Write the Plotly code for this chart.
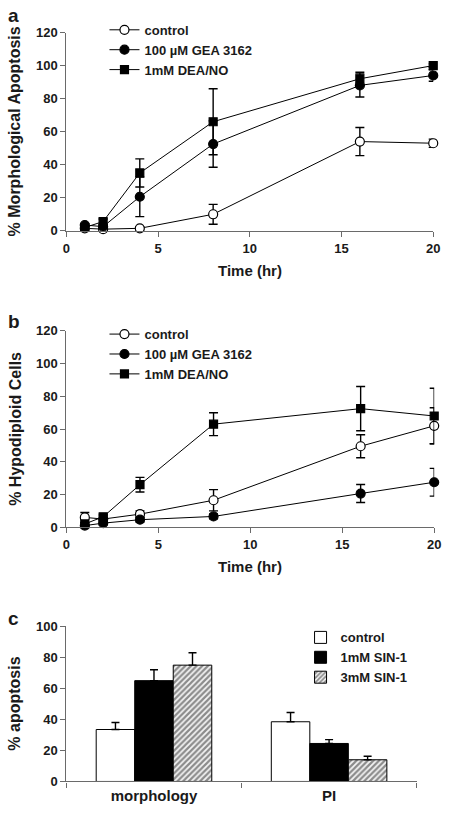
import plotly.graph_objects as go

# ---------------- data ----------------
times = [1, 2, 4, 8, 16, 20]

a_control = [1.5, 1, 1.5, 10, 54, 53]
a_control_err = [1, 0.5, 1, 6, 8.5, 2.5]
a_gea = [3.5, 2.5, 20.6, 52.5, 88, 94]
a_gea_err = [1, 1, 12, 14, 7, 3.5]
a_dea = [2, 5.6, 35, 66, 92, 100]
a_dea_err = [1, 1.5, 8.5, 20, 4, 1]

b_control = [6, 5, 8, 16.5, 49.5, 62]
b_control_err = [3, 2, 2, 6.5, 7, 11]
b_gea = [1, 2.5, 4.6, 6.6, 20.6, 27.5]
b_gea_err = [1, 1, 1.5, 1.5, 5.5, 8.5]
b_dea = [2, 6.4, 26, 63, 72.5, 68]
b_dea_err = [1, 1.5, 4.5, 7, 13.5, 17]

c_categories = ["morphology", "PI"]
c_control = [33.5, 38.5]
c_control_err = [4.5, 6]
c_sin1 = [65, 24.5]
c_sin1_err = [7, 2.5]
c_sin3 = [75, 14]
c_sin3_err = [8, 2.3]

line_names = ["control", "100 µM GEA 3162", "1mM DEA/NO"]
bar_names = ["control", "1mM SIN-1", "3mM SIN-1"]

W, H = 449, 814
FONT = "Liberation Sans, Arial, Helvetica, sans-serif"
AXC = "#6a6a6a"
TXT = "#1a1a1a"


def px(x):
    return x / W


def py(y):
    return (H - y) / H


fig = go.Figure()


def add_series(y, err, name, symbol, fill, xa, ya, legend, size):
    fig.add_trace(go.Scatter(
        x=times, y=y, name=name, mode="lines+markers",
        xaxis=xa, yaxis=ya, legend=legend, cliponaxis=False,
        line=dict(color="black", width=1),
        marker=dict(symbol=symbol, size=size, color=fill,
                    line=dict(color="black", width=1.2)),
        error_y=dict(type="data", array=err, visible=True,
                     color="black", thickness=1.4, width=4.5),
    ))


series_a = [(a_control, a_control_err), (a_gea, a_gea_err), (a_dea, a_dea_err)]
series_b = [(b_control, b_control_err), (b_gea, b_gea_err), (b_dea, b_dea_err)]
styles = [("circle", "white", 9), ("circle", "black", 9), ("square", "black", 8)]

for (y, e), nm, (sym, fill, sz) in zip(series_a, line_names, styles):
    add_series(y, e, nm, sym, fill, "x", "y", "legend", sz)
for (y, e), nm, (sym, fill, sz) in zip(series_b, line_names, styles):
    add_series(y, e, nm, sym, fill, "x2", "y2", "legend2", sz)

bar_series = [(c_control, c_control_err, "white", ""),
              (c_sin1, c_sin1_err, "black", ""),
              (c_sin3, c_sin3_err, "white", "/")]
for (vals, err, col, pat), nm in zip(bar_series, bar_names):
    marker = dict(color=col, line=dict(color="black", width=1))
    if pat:
        marker["pattern"] = dict(shape=pat, fgcolor="#222222", bgcolor="#f4f4f4",
                                 size=4, solidity=0.55)
    fig.add_trace(go.Bar(
        x=c_categories, y=vals, name=nm, xaxis="x3", yaxis="y3",
        legend="legend3", marker=marker,
        error_y=dict(type="data", symmetric=False, array=err,
                     arrayminus=[0] * len(err), visible=True,
                     color="black", thickness=1.4, width=4),
    ))

tickfont = dict(family=FONT, size=13, color=TXT, weight="bold")
common = dict(showline=True, linecolor=AXC, linewidth=1.3, ticks="outside",
              ticklen=5, tickcolor=AXC, tickwidth=1.3, showgrid=False,
              zeroline=False, tickfont=tickfont, mirror=False)

legfont = dict(family=FONT, size=13, color=TXT, weight="bold")

fig.update_layout(
    width=W, height=H, margin=dict(l=0, r=0, t=0, b=0),
    paper_bgcolor="white", plot_bgcolor="white",
    barmode="group", bargap=0.34, bargroupgap=0,
    xaxis=dict(domain=[px(64), px(440)], range=[0, 20], dtick=5,
               anchor="y", **common),
    yaxis=dict(domain=[py(228), py(26)], range=[0, 120], dtick=20,
               anchor="x", **common),
    xaxis2=dict(domain=[px(64), px(441)], range=[0, 20], dtick=5,
                anchor="y2", **common),
    yaxis2=dict(domain=[py(530), py(330)], range=[0, 120], dtick=20,
                anchor="x2", **common),
    xaxis3=dict(domain=[px(64), px(423)], type="category",
                tickson="boundaries", anchor="y3",
                **{**common, "tickfont": dict(family=FONT, size=15, color=TXT, weight="bold")}),
    yaxis3=dict(domain=[py(789), py(631)], range=[0, 100], dtick=20,
                anchor="x3", **common),
    legend=dict(x=px(103), y=py(8), xanchor="left", yanchor="top",
                font=legfont, bgcolor="rgba(0,0,0,0)", borderwidth=0),
    legend2=dict(x=px(103), y=py(318), xanchor="left", yanchor="top",
                 font=legfont, bgcolor="rgba(0,0,0,0)", borderwidth=0),
    legend3=dict(x=px(304), y=py(627), xanchor="left", yanchor="top",
                 font=legfont, bgcolor="rgba(0,0,0,0)", borderwidth=0),
    showlegend=True,
)

ann = []


def add_text(text, x, y, size, angle=0):
    ann.append(dict(text=text, x=px(x), y=py(y), xref="paper", yref="paper",
                    showarrow=False, textangle=angle, xanchor="center",
                    yanchor="middle",
                    font=dict(family=FONT, size=size, color=TXT, weight="bold")))


add_text("a", 10, 9, 19)
add_text("b", 10, 320, 19)
add_text("c", 10, 623, 19)
add_text("% Morphological Apoptosis", 11, 127, 16, -90)
add_text("% Hypodiploid Cells", 11, 430, 16, -90)
add_text("% apoptosis", 11, 710, 16, -90)
add_text("Time (hr)", 252, 268, 15)
add_text("Time (hr)", 252, 570, 15)

fig.update_layout(annotations=ann)

fig.write_html("out.html",
               config={"displayModeBar": False, "staticPlot": False},
               post_script="document.body.style.margin='0';"
                           "document.body.style.padding='0';")
